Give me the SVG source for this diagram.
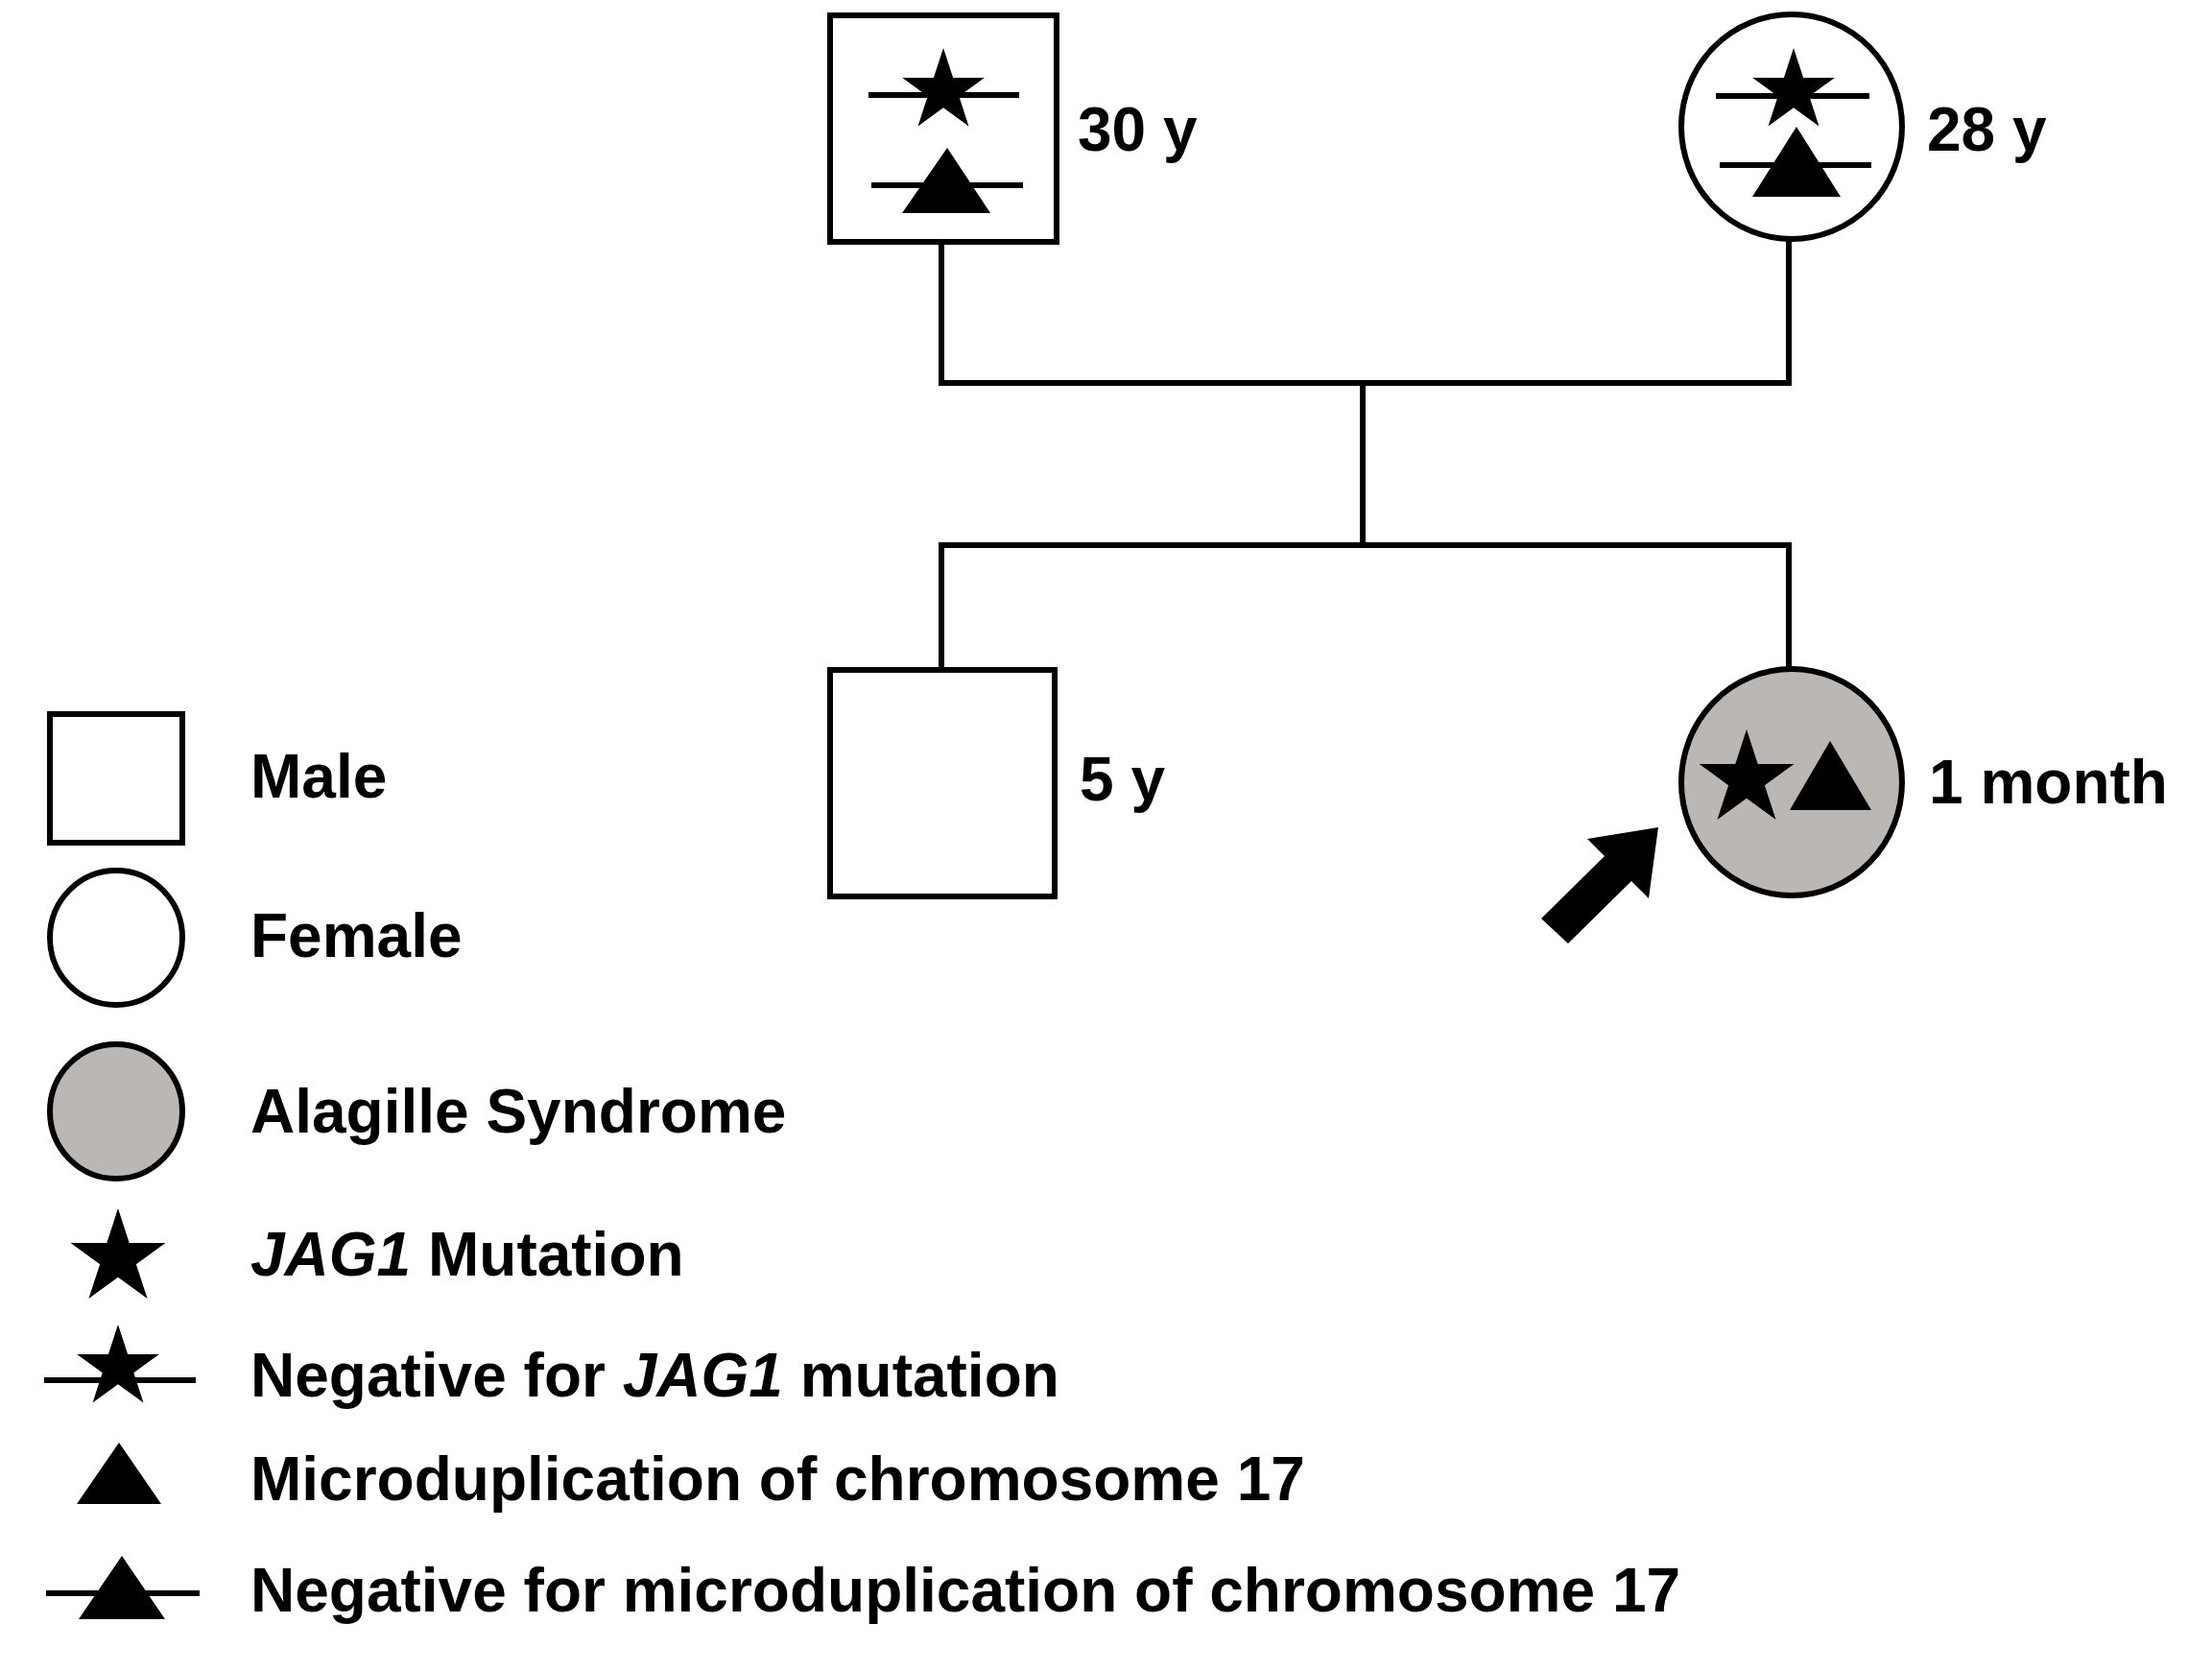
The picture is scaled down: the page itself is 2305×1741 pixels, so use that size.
<svg xmlns="http://www.w3.org/2000/svg" width="2305" height="1741" viewBox="0 0 2305 1741">
<style>
.s{fill:#fff;stroke:#000;stroke-width:6}
.a{fill:#bab7b5;stroke:#000;stroke-width:6}
.l{stroke:#000;stroke-width:6;fill:none}
.t{font-family:"Liberation Sans",Arial,sans-serif;font-weight:bold;font-size:64px;fill:#000}
</style>
<defs>
<path id="star" d="M0,-1 L0.225,-0.309 L0.951,-0.309 L0.363,0.118 L0.588,0.809 L0,0.382 L-0.588,0.809 L-0.363,0.118 L-0.951,-0.309 L-0.225,-0.309Z" fill="#000"/>
</defs>
<rect width="2305" height="1741" fill="#fff"/>
<g id="connectors" class="l">
<path d="M981,252 V399 M1864,249 V399 M978,399 H1867 M1420,399 V568 M978,568 H1867 M981,568 V695 M1864,568 V695"/>
</g>
<g id="father">
<rect class="s" x="865" y="16" width="236" height="236"/>
<use href="#star" transform="translate(983,95) scale(45)"/>
<line class="l" x1="905" y1="99" x2="1062" y2="99"/>
<polygon points="987,154 940,222 1032,222"/>
<line class="l" x1="908" y1="193" x2="1066" y2="193"/>
<text class="t" x="1123" y="157">30 y</text>
</g>
<g id="mother">
<ellipse class="s" cx="1867" cy="132" rx="115" ry="117"/>
<use href="#star" transform="translate(1869,95) scale(45)"/>
<line class="l" x1="1788" y1="100" x2="1948" y2="100"/>
<polygon points="1872,132 1826,205 1918,205"/>
<line class="l" x1="1792" y1="172" x2="1950" y2="172"/>
<text class="t" x="2008" y="157">28 y</text>
</g>
<g id="son">
<rect class="s" x="865" y="698" width="234" height="236"/>
<text class="t" x="1125" y="834">5 y</text>
</g>
<g id="daughter">
<ellipse class="a" cx="1867" cy="815" rx="115" ry="118"/>
<use href="#star" transform="translate(1820,812) scale(52)"/>
<polygon points="1907,772 1865,844 1950,844"/>
<polygon points="1728,862 1654,874 1672,892 1606,957 1634,983 1700,918 1718,936"/>
<text class="t" x="2010" y="837">1 month</text>
</g>
<g id="legend">
<rect class="s" x="52" y="744" width="138" height="134"/>
<text class="t" x="261" y="831">Male</text>
<ellipse class="s" cx="121" cy="977" rx="69" ry="70"/>
<text class="t" x="261" y="997">Female</text>
<ellipse class="a" cx="121" cy="1158" rx="69" ry="70"/>
<text class="t" x="261" y="1180">Alagille Syndrome</text>
<use href="#star" transform="translate(123,1311) scale(52)"/>
<text class="t" x="261" y="1329"><tspan font-style="italic">JAG1</tspan> Mutation</text>
<use href="#star" transform="translate(123,1425) scale(45)"/>
<line class="l" x1="46" y1="1438" x2="204" y2="1438"/>
<text class="t" x="261" y="1455">Negative for <tspan font-style="italic">JAG1</tspan> mutation</text>
<polygon points="124,1503 80,1567 168,1567"/>
<text class="t" x="261" y="1563">Microduplication of chromosome 17</text>
<polygon points="127,1621 82,1687 172,1687"/>
<line class="l" x1="48" y1="1660" x2="208" y2="1660"/>
<text class="t" x="261" y="1679">Negative for microduplication of chromosome 17</text>
</g>
</svg>
